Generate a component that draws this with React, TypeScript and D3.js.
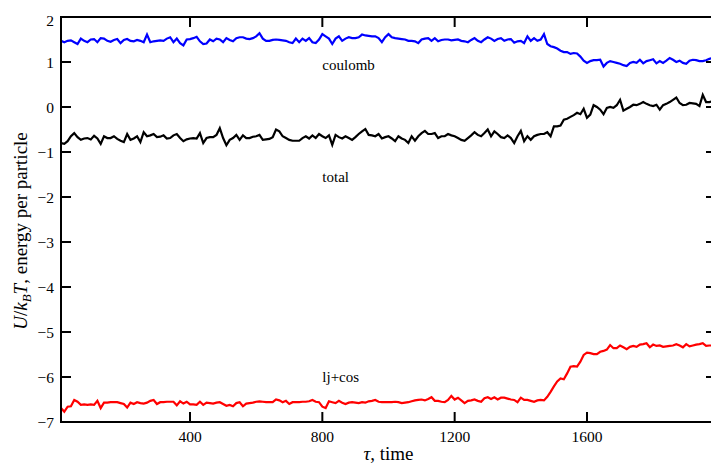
import React from 'react';
import * as d3 from 'd3';

// sampling times of the run (every 10 steps)
const times = d3.range(10, 1990, 10);

const coulomb = [
  1.47, 1.44, 1.47, 1.48, 1.44, 1.40, 1.52, 1.47, 1.44, 1.50,
  1.51, 1.44, 1.53, 1.52, 1.47, 1.45, 1.49, 1.51, 1.42, 1.49,
  1.51, 1.47, 1.46, 1.49, 1.47, 1.44, 1.61, 1.44, 1.46, 1.47,
  1.48, 1.47, 1.52, 1.55, 1.44, 1.52, 1.42, 1.37, 1.50, 1.51,
  1.53, 1.56, 1.46, 1.40, 1.41, 1.50, 1.46, 1.52, 1.50, 1.44,
  1.53, 1.49, 1.46, 1.53, 1.55, 1.55, 1.52, 1.51, 1.53, 1.57,
  1.64, 1.52, 1.47, 1.47, 1.49, 1.50, 1.49, 1.48, 1.47, 1.44,
  1.42, 1.52, 1.44, 1.52, 1.47, 1.53, 1.44, 1.42, 1.50, 1.62,
  1.57, 1.52, 1.40, 1.52, 1.57, 1.47, 1.52, 1.55, 1.53, 1.53,
  1.55, 1.61, 1.59, 1.58, 1.57, 1.57, 1.53, 1.44, 1.55, 1.62,
  1.55, 1.53, 1.52, 1.51, 1.50, 1.47, 1.47, 1.46, 1.42, 1.50,
  1.52, 1.53, 1.47, 1.53, 1.46, 1.49, 1.50, 1.50, 1.48, 1.49,
  1.50, 1.47, 1.46, 1.44, 1.49, 1.53, 1.47, 1.44, 1.50, 1.55,
  1.52, 1.47, 1.51, 1.53, 1.47, 1.50, 1.51, 1.43, 1.46, 1.47,
  1.42, 1.57, 1.47, 1.53, 1.47, 1.50, 1.62, 1.40, 1.35, 1.33,
  1.30, 1.25, 1.22, 1.22, 1.18, 1.20, 1.19, 1.12, 1.03, 0.98,
  1.02, 1.04, 1.04, 1.05, 0.90, 0.98, 1.02, 1.00, 0.98, 0.96,
  0.93, 0.91, 0.98, 1.00, 0.98, 1.05, 0.97, 1.02, 1.04, 1.06,
  0.97, 1.02, 0.98, 1.03, 1.09, 1.05, 1.00, 1.03, 0.98, 0.96,
  1.03, 1.05, 1.04, 1.02, 1.02, 1.04, 1.07, 1.09,
];

const total = [
  -0.80, -0.82, -0.76, -0.65, -0.58, -0.67, -0.73, -0.70, -0.69, -0.72,
  -0.64, -0.70, -0.82, -0.65, -0.69, -0.69, -0.65, -0.71, -0.75, -0.78,
  -0.60, -0.73, -0.70, -0.65, -0.78, -0.56, -0.65, -0.63, -0.60, -0.67,
  -0.66, -0.63, -0.70, -0.69, -0.63, -0.60, -0.69, -0.76, -0.72, -0.70,
  -0.69, -0.70, -0.58, -0.80, -0.69, -0.67, -0.67, -0.62, -0.47, -0.69,
  -0.85, -0.73, -0.69, -0.62, -0.73, -0.63, -0.69, -0.69, -0.66, -0.65,
  -0.62, -0.73, -0.72, -0.71, -0.67, -0.50, -0.54, -0.65, -0.69, -0.73,
  -0.75, -0.75, -0.75, -0.69, -0.65, -0.70, -0.63, -0.69, -0.60, -0.65,
  -0.69, -0.63, -0.84, -0.62, -0.67, -0.70, -0.65, -0.69, -0.73, -0.67,
  -0.60, -0.54, -0.49, -0.62, -0.63, -0.65, -0.60, -0.70, -0.67, -0.65,
  -0.70, -0.76, -0.65, -0.70, -0.73, -0.80, -0.65, -0.75, -0.65, -0.58,
  -0.53, -0.60, -0.60, -0.58, -0.69, -0.65, -0.65, -0.60, -0.63, -0.65,
  -0.69, -0.73, -0.75, -0.69, -0.63, -0.56, -0.62, -0.65, -0.58, -0.50,
  -0.65, -0.54, -0.60, -0.67, -0.69, -0.63, -0.69, -0.80, -0.65, -0.53,
  -0.76, -0.65, -0.73, -0.65, -0.62, -0.60, -0.60, -0.56, -0.65, -0.43,
  -0.43, -0.41, -0.28, -0.26, -0.22, -0.18, -0.13, -0.16, -0.04, -0.24,
  -0.17, 0.04, 0.00, -0.06, -0.16, -0.02, 0.00, -0.02, 0.04, 0.16,
  -0.08, -0.04, 0.00, 0.05, 0.04, 0.07, 0.11, 0.07, 0.04, 0.02,
  0.05, -0.06, 0.04, 0.07, 0.11, 0.16, 0.21, 0.09, 0.04, 0.05,
  0.09, 0.08, 0.07, 0.02, 0.27, 0.11, 0.11, 0.13,
];

const ljCos = [
  -6.69, -6.77, -6.66, -6.65, -6.51, -6.55, -6.62, -6.61, -6.62, -6.61,
  -6.62, -6.53, -6.69, -6.57, -6.57, -6.56, -6.56, -6.56, -6.58, -6.60,
  -6.68, -6.57, -6.60, -6.56, -6.58, -6.59, -6.57, -6.53, -6.51, -6.60,
  -6.56, -6.56, -6.55, -6.55, -6.55, -6.63, -6.54, -6.59, -6.55, -6.61,
  -6.61, -6.62, -6.55, -6.62, -6.57, -6.58, -6.59, -6.57, -6.56, -6.60,
  -6.64, -6.62, -6.65, -6.58, -6.56, -6.65, -6.59, -6.58, -6.57, -6.55,
  -6.54, -6.55, -6.56, -6.56, -6.56, -6.50, -6.52, -6.56, -6.53, -6.60,
  -6.56, -6.56, -6.56, -6.55, -6.55, -6.54, -6.51, -6.55, -6.56, -6.66,
  -6.69, -6.54, -6.56, -6.58, -6.53, -6.57, -6.60, -6.57, -6.56, -6.57,
  -6.58, -6.56, -6.57, -6.54, -6.53, -6.51, -6.55, -6.56, -6.56, -6.56,
  -6.56, -6.55, -6.56, -6.58, -6.57, -6.56, -6.54, -6.52, -6.51, -6.50,
  -6.52, -6.49, -6.45, -6.53, -6.53, -6.55, -6.56, -6.51, -6.42, -6.50,
  -6.46, -6.52, -6.58, -6.53, -6.52, -6.50, -6.53, -6.55, -6.47, -6.45,
  -6.49, -6.45, -6.50, -6.46, -6.46, -6.48, -6.50, -6.51, -6.56, -6.46,
  -6.51, -6.51, -6.53, -6.55, -6.52, -6.51, -6.52, -6.44, -6.33, -6.21,
  -6.10, -6.03, -6.05, -5.92, -5.77, -5.76, -5.77, -5.66, -5.51, -5.46,
  -5.47, -5.49, -5.49, -5.44, -5.42, -5.39, -5.29, -5.36, -5.36, -5.30,
  -5.34, -5.38, -5.33, -5.31, -5.33, -5.28, -5.27, -5.25, -5.34, -5.28,
  -5.31, -5.30, -5.33, -5.32, -5.31, -5.30, -5.27, -5.30, -5.34, -5.27,
  -5.32, -5.30, -5.28, -5.27, -5.25, -5.31, -5.30, -5.30,
];

const xTicks = [400, 800, 1200, 1600];
const yTicks = [-7, -6, -5, -4, -3, -2, -1, 0, 1, 2];

// series name, colour, and where its name is written (data coords)
const seriesNames = ['coulomb', 'total', 'lj+cos'];
const seriesColors = ['#0000ff', '#000000', '#ff0000'];
const labelAt = [[800, 0.83], [800, -1.67], [800, -6.11]];

const W = 711;
const H = 463;
const FONT = "'Liberation Serif', 'Times New Roman', Times, serif";

export default function App() {
  const left = 61, right = 716, top = 17, bottom = 422;
  const x = d3.scaleLinear().domain([10, 1990]).range([left, right]);
  const y = d3.scaleLinear().domain([-7, 2]).range([bottom, top]);

  const line = d3.line<number>()
    .x((_, i) => x(times[i]))
    .y(d => y(d));

  const series = [coulomb, total, ljCos];
  const fmt = (v: number) => (v < 0 ? '\u2212' + Math.abs(v) : String(v));
  const txt = { fontFamily: FONT };

  return (
    <svg width={W} height={H}
      style={{ position: 'absolute', left: 0, top: 0, overflow: 'hidden', background: '#fff', fontFamily: FONT }}>
      <defs>
        <clipPath id="plot">
          <rect x={left} y={top} width={right - left} height={bottom - top} />
        </clipPath>
      </defs>

      <g clipPath="url(#plot)">
        {series.map((s, k) => (
          <path key={seriesNames[k]} d={line(s) || ''} fill="none"
            stroke={seriesColors[k]} strokeWidth={2.2} strokeLinejoin="miter" />
        ))}
      </g>

      {/* frame */}
      <rect x={left} y={top} width={right - left} height={bottom - top}
        fill="none" stroke="#000" strokeWidth={2} />

      {/* x ticks, top and bottom, inward */}
      {xTicks.map(t => (
        <g key={'x' + t}>
          <line x1={x(t)} x2={x(t)} y1={bottom} y2={bottom - 10} stroke="#000" strokeWidth={2} />
          <line x1={x(t)} x2={x(t)} y1={top} y2={top + 10} stroke="#000" strokeWidth={2} />
          <text x={x(t)} y={442} textAnchor="middle" fontSize={15.5} style={txt}>{t}</text>
        </g>
      ))}

      {/* y ticks, left and right, inward */}
      {yTicks.map(t => (
        <g key={'y' + t}>
          <line x1={left} x2={left + 10} y1={y(t)} y2={y(t)} stroke="#000" strokeWidth={2} />
          <line x1={right} x2={right - 10} y1={y(t)} y2={y(t)} stroke="#000" strokeWidth={2} />
          <text x={54} y={y(t) + (t === 2 ? 3 : 0)} dy="0.36em" textAnchor="end" fontSize={15.5} style={txt}>{fmt(t)}</text>
        </g>
      ))}

      {/* in-plot series names */}
      {seriesNames.map((n, k) => (
        <text key={'l' + n} x={x(labelAt[k][0])} y={y(labelAt[k][1])} fontSize={15} style={txt}>{n}</text>
      ))}

      {/* axis titles */}
      <text x={(left + right) / 2} y={460} textAnchor="middle" fontSize={19} style={txt}>
        <tspan fontStyle="italic">τ</tspan>, time
      </text>
      <text transform="translate(27, 231) rotate(-90)" textAnchor="middle" fontSize={19} style={txt}>
        <tspan fontStyle="italic">U</tspan>/<tspan fontStyle="italic">k</tspan>
        <tspan fontStyle="italic" fontSize={13} dy={4}>B</tspan>
        <tspan fontStyle="italic" dy={-4}>T</tspan>, energy per particle
      </text>
    </svg>
  );
}
